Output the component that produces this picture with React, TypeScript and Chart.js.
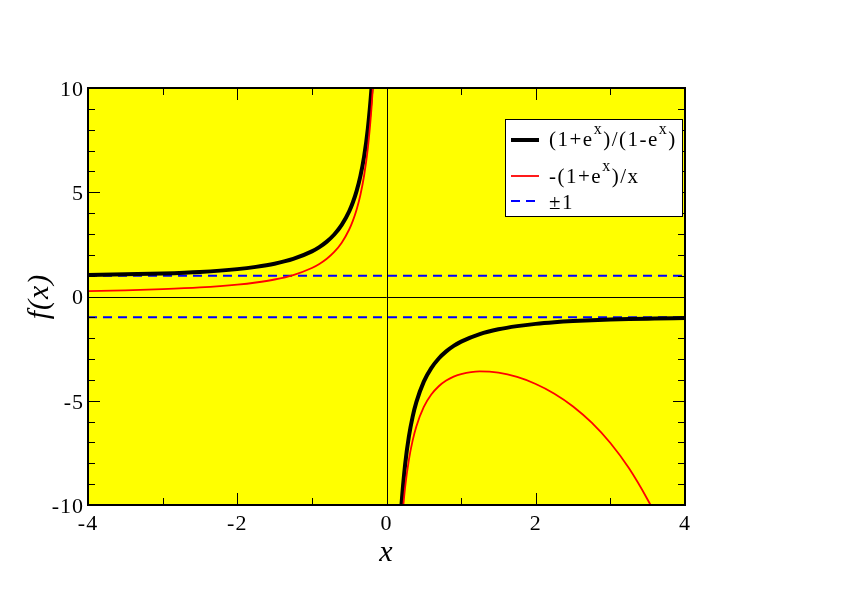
import React, { useEffect, useRef } from "react";
import { Chart, registerables } from "chart.js";

Chart.register(...registerables);

// ---- data ----
const xLeft = [-4, -3.5, -3, -2.5, -2, -1.75, -1.5, -1.25, -1, -0.9, -0.8, -0.7, -0.6, -0.5, -0.45, -0.4, -0.35, -0.3, -0.25, -0.2, -0.18];
const blackLeft = [1.037, 1.062, 1.105, 1.179, 1.313, 1.421, 1.574, 1.803, 2.164, 2.37, 2.632, 2.973, 3.433, 4.083, 4.519, 5.067, 5.772, 6.716, 8.042, 10.03, 11.14];
const redLeft = [0.255, 0.294, 0.35, 0.433, 0.568, 0.671, 0.815, 1.029, 1.368, 1.563, 1.812, 2.138, 2.581, 3.213, 3.639, 4.176, 4.871, 5.803, 7.115, 9.094, 10.2];

const xRight = [0.18, 0.2, 0.25, 0.3, 0.35, 0.4, 0.5, 0.6, 0.7, 0.8, 0.9, 1, 1.25, 1.5, 1.75, 2, 2.25, 2.5, 2.75, 3, 3.25, 3.5, 3.6, 4];
const blackRight = [-11.14, -10.03, -8.042, -6.716, -5.772, -5.067, -4.083, -3.433, -2.973, -2.632, -2.37, -2.164, -1.803, -1.574, -1.421, -1.313, -1.236, -1.179, -1.137, -1.105, -1.081, -1.062, -1.056, -1.037];
const redRight = [-12.21, -11.11, -9.136, -7.833, -6.912, -6.23, -5.297, -4.704, -4.305, -4.032, -3.844, -3.718, -3.592, -3.654, -3.86, -4.195, -4.661, -5.273, -6.052, -7.029, -8.243, -9.747, -10.44, -13.9];

const levels = [1, -1];
const xRange = [-4, 4];
const yRange = [-10, 10];
const xMajorStep = 2;
const yMajorStep = 5;
const xMinorStep = 1;
const yMinorStep = 1;

const legendLabels = ["(1+e^x)/(1-e^x)", "-(1+e^x)/x", "±1"];
const xTitle = "x";
const yTitle = "f(x)";

const SERIF = "'Liberation Serif', 'Times New Roman', 'DejaVu Serif', serif";

function toPoints(xs: number[], ys: number[]) {
  return xs.map((x, i) => ({ x, y: ys[i] }));
}

const gap = { x: 0, y: null as any };

function drawRich(ctx: CanvasRenderingContext2D, x: number, y: number, text: string) {
  const mainFont = `21px ${SERIF}`;
  const supFont = `16px ${SERIF}`;
  let cx = x;
  let i = 0;
  ctx.textBaseline = "alphabetic";
  ctx.textAlign = "left";
  (ctx as any).letterSpacing = "1.5px";
  while (i < text.length) {
    if (text[i] === "^") {
      const s = text[i + 1];
      ctx.font = supFont;
      ctx.fillText(s, cx, y - 12);
      cx += ctx.measureText(s).width;
      i += 2;
    } else {
      let j = i;
      while (j < text.length && text[j] !== "^") j++;
      const s = text.slice(i, j);
      ctx.font = mainFont;
      ctx.fillText(s, cx, y);
      cx += ctx.measureText(s).width;
      i = j;
    }
  }
  (ctx as any).letterSpacing = "0px";
}

const spacingPlugin = {
  id: "tickSpacing",
  beforeDraw(chart: any) {
    (chart.ctx as any).letterSpacing = "1px";
  },
  beforeDatasetsDraw(chart: any) {
    (chart.ctx as any).letterSpacing = "0px";
  },
};

const framePlugin = {
  id: "xmFrame",
  beforeDatasetsDraw(chart: any) {
    const { ctx, chartArea: a, scales } = chart;
    ctx.save();
    ctx.fillStyle = "#ffff00";
    ctx.fillRect(a.left, a.top, a.right - a.left, a.bottom - a.top);
    ctx.strokeStyle = "#000";
    ctx.lineWidth = 1;
    const x0 = Math.round(scales.x.getPixelForValue(0)) + 0.5;
    const y0 = Math.round(scales.y.getPixelForValue(0)) + 0.5;
    ctx.beginPath();
    ctx.moveTo(x0, a.top);
    ctx.lineTo(x0, a.bottom);
    ctx.moveTo(a.left, y0);
    ctx.lineTo(a.right, y0);
    ctx.stroke();
    ctx.restore();
  },
  afterDatasetsDraw(chart: any) {
    const { ctx, chartArea: a, scales } = chart;
    ctx.save();
    ctx.strokeStyle = "#000";
    ctx.lineWidth = 1;
    ctx.beginPath();
    for (let v = xRange[0]; v <= xRange[1]; v += xMinorStep) {
      const major = Math.abs(v % xMajorStep) < 1e-9;
      const len = major ? 12 : 7;
      const px = Math.round(scales.x.getPixelForValue(v)) + 0.5;
      ctx.moveTo(px, a.bottom);
      ctx.lineTo(px, a.bottom - len);
      ctx.moveTo(px, a.top);
      ctx.lineTo(px, a.top + len);
    }
    for (let v = yRange[0]; v <= yRange[1]; v += yMinorStep) {
      const major = Math.abs(v % yMajorStep) < 1e-9;
      const len = major ? 12 : 7;
      const py = Math.round(scales.y.getPixelForValue(v)) + 0.5;
      ctx.moveTo(a.left, py);
      ctx.lineTo(a.left + len, py);
      ctx.moveTo(a.right, py);
      ctx.lineTo(a.right - len, py);
    }
    ctx.stroke();

    ctx.lineWidth = 2;
    ctx.strokeRect(a.left, a.top, a.right - a.left, a.bottom - a.top);

    // legend
    const lx = 505, ly = 119, lw = 177, lh = 97;
    ctx.fillStyle = "#ffffff";
    ctx.fillRect(lx, ly, lw, lh);
    ctx.lineWidth = 1;
    ctx.strokeRect(lx + 0.5, ly + 0.5, lw, lh);

    const ds = chart.data.datasets;
    const rows = [
      { ds: ds[0], lineY: 140, textY: 146 },
      { ds: ds[1], lineY: 176, textY: 183 },
      { ds: ds[2], lineY: 201, textY: 209 },
    ];
    rows.forEach((r, k) => {
      ctx.save();
      ctx.strokeStyle = r.ds.borderColor;
      ctx.lineWidth = r.ds.borderWidth;
      ctx.setLineDash(r.ds.borderDash || []);
      ctx.beginPath();
      ctx.moveTo(511, r.lineY);
      ctx.lineTo(539, r.lineY);
      ctx.stroke();
      ctx.restore();
      ctx.fillStyle = "#000";
      drawRich(ctx, 549, r.textY, legendLabels[k]);
    });
    ctx.restore();
  },
};

export default function App() {
  const ref = useRef<HTMLCanvasElement | null>(null);
  useEffect(() => {
    if (!ref.current) return;
    const chart = new Chart(ref.current, {
      type: "line",
      data: {
        datasets: [
          {
            label: legendLabels[0],
            data: [...toPoints(xLeft, blackLeft), gap, ...toPoints(xRight, blackRight)],
            borderColor: "#000000",
            borderWidth: 4,
            pointRadius: 0,
            spanGaps: false,
            cubicInterpolationMode: "monotone",
            clip: 0,
            order: 2,
          } as any,
          {
            label: legendLabels[1],
            data: [...toPoints(xLeft, redLeft), gap, ...toPoints(xRight, redRight)],
            borderColor: "#ff0000",
            borderWidth: 1.8,
            pointRadius: 0,
            spanGaps: false,
            cubicInterpolationMode: "monotone",
            clip: 0,
            order: 1,
          } as any,
          {
            label: legendLabels[2],
            data: [
              { x: xRange[0], y: levels[0] },
              { x: xRange[1], y: levels[0] },
              gap,
              { x: xRange[0], y: levels[1] },
              { x: xRange[1], y: levels[1] },
            ],
            borderColor: "#0000ff",
            borderWidth: 2,
            borderDash: [9, 6],
            pointRadius: 0,
            spanGaps: false,
            clip: 0,
            order: 3,
          } as any,
        ],
      },
      options: {
        animation: false,
        responsive: false,
        devicePixelRatio: 1,
        parsing: false as any,
        layout: { padding: { left: 0, top: 88, right: 157, bottom: 0 } },
        plugins: { legend: { display: false }, tooltip: { enabled: false } },
        scales: {
          x: {
            type: "linear",
            min: xRange[0],
            max: xRange[1],
            grid: { display: false, drawTicks: false },
            border: { display: false },
            ticks: {
              stepSize: xMajorStep,
              autoSkip: false,
              maxRotation: 0,
              padding: 6,
              color: "#000",
              font: { family: SERIF, size: 22 },
            },
            title: {
              display: true,
              text: xTitle,
              color: "#000",
              font: { family: SERIF, size: 30, style: "italic" },
              padding: { top: 0, bottom: 24 },
            },
            afterFit: (s: any) => {
              s.height = 90;
            },
          },
          y: {
            type: "linear",
            min: yRange[0],
            max: yRange[1],
            grid: { display: false, drawTicks: false },
            border: { display: false },
            ticks: {
              stepSize: yMajorStep,
              autoSkip: false,
              padding: 4,
              labelOffset: 2,
              color: "#000",
              font: { family: SERIF, size: 22 },
            },
            title: {
              display: true,
              text: yTitle,
              color: "#000",
              font: { family: SERIF, size: 30, style: "italic" },
              padding: { top: 22, bottom: 0 },
            },
            afterFit: (s: any) => {
              s.width = 88;
            },
          },
        },
      },
      plugins: [spacingPlugin, framePlugin],
    });
    return () => chart.destroy();
  }, []);

  return (
    <div style={{ position: "absolute", left: 0, top: 0, width: 842, height: 595, background: "#fff" }}>
      <canvas ref={ref} width={842} height={595} style={{ display: "block", width: 842, height: 595 }} />
    </div>
  );
}
